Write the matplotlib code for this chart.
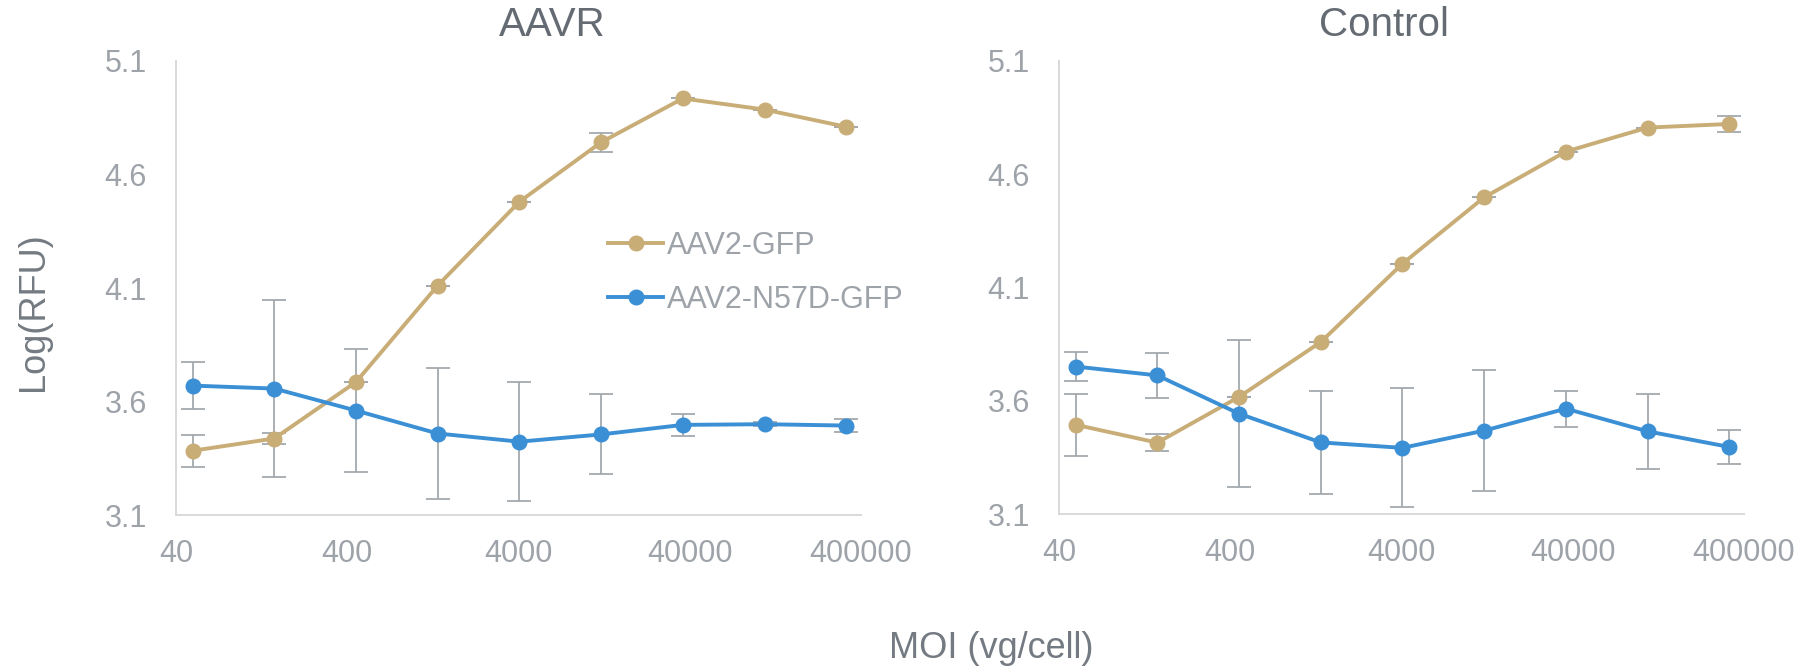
import matplotlib as mpl
mpl.use('Agg')
import matplotlib.pyplot as plt

plt.rcParams['font.family'] = ['Liberation Sans', 'DejaVu Sans']

# MOI (vg/cell) for each dilution step
moi = [50, 150, 450, 1350, 4050, 12150, 36450, 109350, 328050]

# AAVR panel
aavr_gfp = [3.383, 3.437, 3.686, 4.111, 4.480, 4.742, 4.935, 4.886, 4.810]
aavr_gfp_err = [0.071, 0.026, 0.0, 0.0, 0.0, 0.041, 0.0, 0.0, 0.0]
aavr_n57d = [3.670, 3.657, 3.560, 3.459, 3.423, 3.455, 3.497, 3.500, 3.494]
aavr_n57d_err = [0.105, 0.39, 0.272, 0.29, 0.262, 0.176, 0.047, 0.01, 0.03]

# Control panel
ctrl_gfp = [3.494, 3.415, 3.617, 3.859, 4.205, 4.498, 4.700, 4.806, 4.822]
ctrl_gfp_err = [0.137, 0.039, 0.0, 0.0, 0.0, 0.0, 0.0, 0.0, 0.034]
ctrl_n57d = [3.751, 3.712, 3.543, 3.416, 3.392, 3.468, 3.565, 3.465, 3.396]
ctrl_n57d_err = [0.066, 0.10, 0.326, 0.228, 0.263, 0.267, 0.079, 0.166, 0.074]

xticks = [40, 400, 4000, 40000, 400000]
yticks = [3.1, 3.6, 4.1, 4.6, 5.1]

TAN = '#C9AD77'
BLUE = '#3B8FD5'
ERR = '#A4A9AE'
TICK = '#9DA3A9'
TITLE = '#646B72'
LABEL = '#737A81'
SPINE = '#D9D9D9'


def draw_panel(ax, gfp, gfp_err, n57d, n57d_err, ypad):
    for vals, errs in ((gfp, gfp_err), (n57d, n57d_err)):
        ax.errorbar(moi, vals, yerr=errs, fmt='none', ecolor=ERR,
                    elinewidth=1.3, capsize=8.5, capthick=1.3, zorder=1)
    ax.plot(moi, gfp, '-o', color=TAN, lw=2.8, ms=10.5, label='AAV2-GFP', zorder=3)
    ax.plot(moi, n57d, '-o', color=BLUE, lw=2.8, ms=10.5, label='AAV2-N57D-GFP', zorder=4)

    ax.set_xscale('log')
    ax.set_xlim(40, 400000)
    ax.set_ylim(3.1, 5.1)
    ax.set_xticks(xticks)
    ax.set_xticklabels([str(t) for t in xticks])
    ax.minorticks_off()
    ax.set_yticks(yticks)
    ax.set_yticklabels([f'{t:.1f}' for t in yticks])
    ax.tick_params(axis='x', length=0, pad=17, labelsize=22, colors=TICK)
    ax.tick_params(axis='y', length=0, pad=ypad, labelsize=22, colors=TICK)
    for side in ('top', 'right'):
        ax.spines[side].set_visible(False)
    for side in ('left', 'bottom'):
        ax.spines[side].set_color(SPINE)
        ax.spines[side].set_linewidth(1.4)
    for sp in ax.spines.values():
        sp.set_clip_on(False)


fig = plt.figure(figsize=(18.16, 6.68), dpi=100)
ax1 = fig.add_axes([176 / 1816, 1 - 515 / 668, 685 / 1816, 454 / 668])
ax2 = fig.add_axes([1059 / 1816, 1 - 514 / 668, 685 / 1816, 453 / 668])

draw_panel(ax1, aavr_gfp, aavr_gfp_err, aavr_n57d, aavr_n57d_err, 21)
draw_panel(ax2, ctrl_gfp, ctrl_gfp_err, ctrl_n57d, ctrl_n57d_err, 21)

fig.text(552 / 1816, 1 - 25 / 668, 'AAVR', ha='center', va='center',
         fontsize=29, color=TITLE)
fig.text(1384 / 1816, 1 - 25 / 668, 'Control', ha='center', va='center',
         fontsize=29, color=TITLE)
fig.text(33 / 1816, 1 - 312 / 668, 'Log(RFU)', rotation=90, ha='center',
         va='center', fontsize=26, color=LABEL)
fig.text(991 / 1816, 1 - 648 / 668, 'MOI (vg/cell)', ha='center', va='center',
         fontsize=26, color=LABEL)

ax1.legend(loc='upper left', bbox_to_anchor=(608 / 1816, 1 - 231 / 668),
           bbox_transform=fig.transFigure, frameon=False, fontsize=22,
           labelcolor=TICK, handlelength=1.8, handletextpad=0.13,
           labelspacing=0.78, borderpad=0, borderaxespad=0)

fig.savefig('out.png', dpi=100)
plt.close(fig)
